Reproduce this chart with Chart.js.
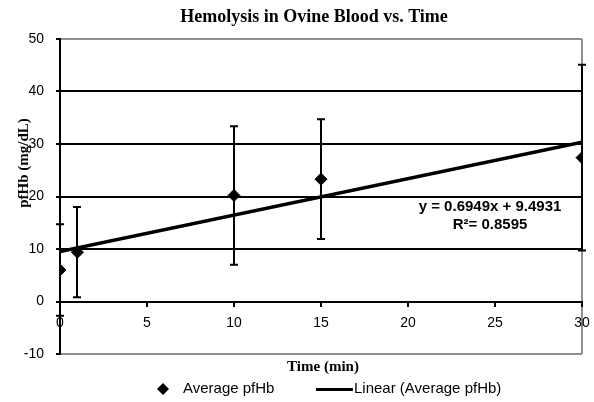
<!DOCTYPE html>
<html>
<head>
<meta charset="utf-8">
<script src="https://cdn.jsdelivr.net/npm/chart.js@4.4.1/dist/chart.umd.min.js"></script>
<style>
  html, body { margin: 0; padding: 0; background: #ffffff; }
  #wrap { width: 594px; height: 402px; position: relative; }
</style>
</head>
<body>
<div id="wrap"><canvas id="c" width="594" height="402"></canvas></div>
<script>
// ---- Data ----
const timeMin = [0, 1, 10, 15, 30];
const avgPfHb = [6.0, 9.4, 20.2, 23.3, 27.4];
const errPfHb = [8.7, 8.6, 13.2, 11.4, 17.7];
const trendX = [0, 30];
const trendY = [9.4931, 30.3401];
const yTicks = [-10, 0, 10, 20, 30, 40, 50];
const xTicks = [0, 5, 10, 15, 20, 25, 30];
const chartTitle = 'Hemolysis in Ovine Blood vs. Time';
const xTitle = 'Time (min)';
const yTitle = 'pfHb (mg/dL)';
const seriesName = 'Average pfHb';
const trendName = 'Linear (Average pfHb)';
const eqLine1 = 'y = 0.6949x + 9.4931';
const eqLine2 = 'R\u00B2= 0.8595';

const SANS = "'Liberation Sans', Arial, sans-serif";
const SERIF = "'Liberation Serif', 'Times New Roman', serif";
const GRAY = '#8f8f8f';

const errorBarPlugin = {
  id: 'errorBars',
  beforeDatasetsDraw(chart) {
    const ctx = chart.ctx, xs = chart.scales.x, ys = chart.scales.y;
    ctx.save();
    ctx.strokeStyle = '#000';
    ctx.lineWidth = 2;
    timeMin.forEach((t, i) => {
      const px = Math.round(xs.getPixelForValue(t));
      const top = ys.getPixelForValue(avgPfHb[i] + errPfHb[i]);
      const bot = ys.getPixelForValue(avgPfHb[i] - errPfHb[i]);
      ctx.beginPath();
      ctx.moveTo(px, top); ctx.lineTo(px, bot);
      ctx.moveTo(px - 4, top); ctx.lineTo(px + 4, top);
      ctx.moveTo(px - 4, bot); ctx.lineTo(px + 4, bot);
      ctx.stroke();
    });
    ctx.restore();
  }
};

const textPlugin = {
  id: 'texts',
  afterDraw(chart) {
    const ctx = chart.ctx;
    ctx.save();
    ctx.fillStyle = '#000';
    ctx.textBaseline = 'middle';
    ctx.textAlign = 'center';
    ctx.font = "bold 18px " + SERIF;
    ctx.fillText(chartTitle, 314, 17);
    ctx.font = "bold 15px " + SERIF;
    ctx.fillText(xTitle, 323, 367);
    ctx.save();
    ctx.translate(24, 163);
    ctx.rotate(-Math.PI / 2);
    ctx.fillText(yTitle, 0, 0);
    ctx.restore();
    ctx.font = "bold 15px " + SANS;
    ctx.fillText(eqLine1, 490, 207);
    ctx.fillText(eqLine2, 490, 225);
    ctx.textAlign = 'left';
    ctx.font = "15px " + SANS;
    ctx.beginPath();
    ctx.moveTo(163, 383); ctx.lineTo(169, 389); ctx.lineTo(163, 395); ctx.lineTo(157, 389);
    ctx.closePath();
    ctx.fill();
    ctx.fillText(seriesName, 183, 389);
    ctx.fillRect(316, 388, 37, 3);
    ctx.fillText(trendName, 354, 389);
    ctx.restore();
  }
};

function noPad(scale) {
  scale.paddingLeft = 0; scale.paddingRight = 0;
  scale.paddingTop = 0; scale.paddingBottom = 0;
}

new Chart(document.getElementById('c'), {
  type: 'scatter',
  data: {
    datasets: [
      {
        label: seriesName,
        data: timeMin.map((t, i) => ({ x: t, y: avgPfHb[i] })),
        pointStyle: 'rectRot',
        pointRadius: 6,
        pointBackgroundColor: '#000',
        pointBorderColor: '#000',
        showLine: false,
        order: 1
      },
      {
        label: trendName,
        type: 'line',
        data: trendX.map((t, i) => ({ x: t, y: trendY[i] })),
        borderColor: '#000',
        borderWidth: 3.5,
        pointRadius: 0,
        fill: false,
        order: 2
      }
    ]
  },
  options: {
    responsive: false,
    animation: false,
    events: [],
    layout: { padding: { left: 0, top: 39, right: 12, bottom: 48 } },
    plugins: {
      legend: { display: false },
      title: { display: false },
      tooltip: { enabled: false }
    },
    scales: {
      x: {
        type: 'linear',
        position: { y: 0 },
        min: 0, max: 30,
        afterBuildTicks(scale) { scale.ticks = xTicks.map(v => ({ value: v })); },
        afterFit: noPad,
        ticks: {
          color: '#000',
          font: { family: SANS, size: 14 },
          padding: 9,
          maxRotation: 0
        },
        grid: {
          color: (c) => (c.tick && c.tick.value === 30 ? GRAY : 'rgba(0,0,0,0)'),
          lineWidth: 2,
          drawTicks: true,
          tickLength: 4,
          tickColor: '#000',
          tickWidth: 2
        },
        border: { display: true, color: '#000', width: 2 }
      },
      y: {
        type: 'linear',
        min: -10, max: 50,
        afterBuildTicks(scale) { scale.ticks = yTicks.map(v => ({ value: v })); },
        afterFit(scale) { scale.width = 60; noPad(scale); },
        ticks: {
          color: '#000',
          font: { family: SANS, size: 14 },
          padding: 12
        },
        grid: {
          color: (c) => (c.tick && (c.tick.value === 50 || c.tick.value === -10) ? GRAY : '#000'),
          lineWidth: 2,
          drawTicks: true,
          tickLength: 4,
          tickColor: '#000',
          tickWidth: 2
        },
        border: { display: true, color: '#000', width: 2 }
      }
    }
  },
  plugins: [errorBarPlugin, textPlugin]
});
</script>
</body>
</html>
